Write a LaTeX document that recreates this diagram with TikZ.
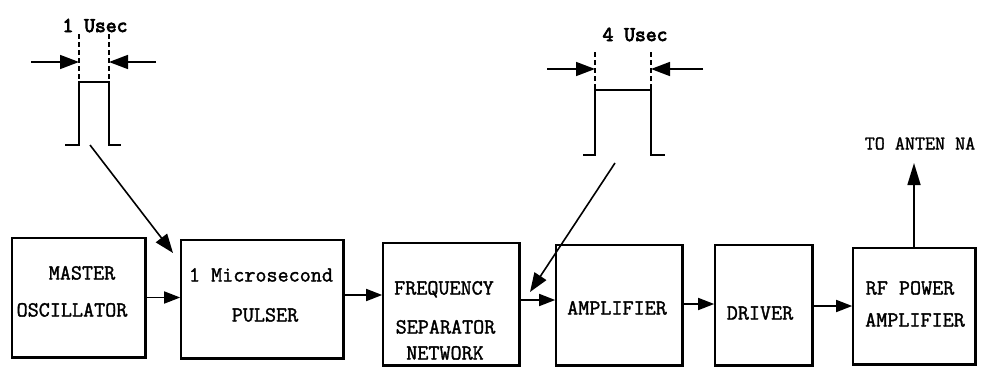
\documentclass[tikz,border=0pt]{standalone}
\usepackage{fontspec}
\newfontfamily\twfont[FakeBold=1.6]{Latin Modern Mono}
\newfontfamily\twbfont[FakeBold=3.8]{Latin Modern Mono}
\usetikzlibrary{arrows.meta,calc}
\begin{document}
\begin{tikzpicture}[x=1pt,y=-1pt,
  blk/.style={draw,line width=1.6pt,inner sep=0pt},
  txt/.style={inner sep=0pt,anchor=base,font=\twfont\fontsize{21.5}{24}\selectfont},
  small/.style={inner sep=0pt,anchor=base,font=\twfont\fontsize{19.5}{22}\selectfont},
  bold/.style={inner sep=0pt,anchor=base,font=\twbfont\fontsize{21}{24}\selectfont},
  conn/.style={line width=1.6pt,-{Triangle[length=16pt,width=12pt]}},
  bigconn/.style={line width=1.6pt,-{Triangle[length=19pt,width=14pt]}},
  wave/.style={line width=1.8pt},
  dsh/.style={line width=1.2pt,dash pattern=on 5pt off 3pt}]
\useasboundingbox (0,0) rectangle (982,367);

% boxes
\node[blk,minimum width=133pt,minimum height=119pt] (mo) at (78.5,297.5) {};
\node[blk,minimum width=162pt,minimum height=118pt] (pul) at (262,299) {};
\node[blk,minimum width=136pt,minimum height=122pt] (fs) at (451,304) {};
\node[blk,minimum width=126pt,minimum height=120pt] (amp) at (619,305) {};
\node[blk,minimum width=97pt,minimum height=120pt] (drv) at (763.5,305) {};
\node[blk,minimum width=122pt,minimum height=116pt] (rf) at (914,306) {};
\foreach \b in {mo,pul,fs,amp,drv,rf}
  \draw[line width=3pt] (\b.north east) -- (\b.south east) -- (\b.south west);

% box texts
\node[txt] (mo1) at (82,279.5) {MASTER};
\node[txt] (mo2) at (72,316.5) {OSCILLATOR};
\node[txt] (pul1) at (261,281.5) {1 Microsecond};
\node[txt] (pul2) at (265,321.5) {PULSER};
\node[txt] (fs1) at (444,294.5) {FREQUENCY};
\node[txt] (fs2) at (445.5,333.5) {SEPARATOR};
\node[txt] (fs3) at (445,359.5) {NETWORK};
\node[txt] (amp1) at (617,314.5) {AMPLIFIER};
\node[txt] (drv1) at (760,319.5) {DRIVER};
\node[txt] (rf1) at (910,294.5) {RF POWER};
\node[txt] (rf2) at (915,326.5) {AMPLIFIER};
\node[small] (ant) at (920,149.5) {TO ANTEN NA};

% chain connectors
\draw[conn] (mo.east) -- (pul.west |- mo.east);
\draw[conn] (pul.east |- 0,295) -- (fs.west |- 0,295);
\draw[conn] (fs.east |- 0,300) -- (amp.west |- 0,300);
\draw[conn] (amp.east |- 0,304) -- (drv.west |- 0,304);
\draw[conn] (drv.east |- 0,306) -- (rf.west |- 0,306);
\coordinate (antip) at (rf.north |- 0,163);
\draw[line width=1.6pt,-{Triangle[length=22pt,width=13pt]}] (rf.north) -- (antip);

% pulse 1 (1 usec)
\node[bold] (p1t) at (95,32) {1 Usec};
\draw[wave] (65,145) -- (79,145) -- (79,82) -- (109,82) -- (109,145) -- (121,145);
\draw[dsh] (79,34) -- (79,82);
\draw[dsh] (109,34) -- (109,82);
\coordinate (p1la) at (31,62); \coordinate (p1lb) at (79,62);
\coordinate (p1ra) at (156,62); \coordinate (p1rb) at (109,62);
\draw[bigconn] (p1la) -- (p1lb);
\draw[bigconn] (p1ra) -- (p1rb);
\coordinate (p1s) at (90,145);
\coordinate (p1e) at (173,253);
\draw[bigconn] (p1s) -- (p1e);

% pulse 2 (4 usec)
\node[bold] (p2t) at (635,41) {4 Usec};
\draw[wave] (583,155) -- (595,155) -- (595,90) -- (651,90) -- (651,155) -- (665,155);
\draw[dsh] (595,52) -- (595,90);
\draw[dsh] (651,52) -- (651,90);
\coordinate (p2la) at (547,69); \coordinate (p2lb) at (595,69);
\coordinate (p2ra) at (703,69); \coordinate (p2rb) at (651,69);
\draw[bigconn] (p2la) -- (p2lb);
\draw[bigconn] (p2ra) -- (p2rb);
\coordinate (p2s) at (615,163);
\coordinate (p2e) at (530,292);
\draw[bigconn] (p2s) -- (p2e);
\end{tikzpicture}
\end{document}
